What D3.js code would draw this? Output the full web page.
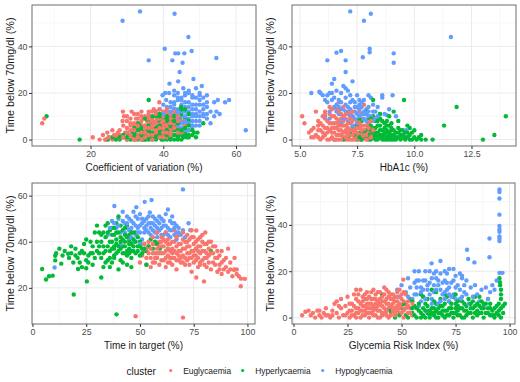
<!DOCTYPE html>
<html>
<head>
<meta charset="utf-8">
<script src="https://cdn.jsdelivr.net/npm/d3@7"></script>
<style>
  body { margin: 0; background: #fff; }
  svg text { font-family: "Liberation Sans", Arial, sans-serif; }
</style>
</head>
<body>
<div id="chart"></div>
<script>
// cluster names + colours (ggplot defaults)
const clusterNames = ["Euglycaemia", "Hyperlycaemia", "Hypoglycaemia"];
const clusterColors = ["#F8766D", "#00BA38", "#619CFF"];

// Panel 1: coefficient of variation vs time below 70
const cvEu = [[6.7,7],[7.3,9],[20.6,1],[22.5,0],[23.4,2],[24.6,3],[26,0],[27,1],[27.5,0.5],[28,2],[28.5,1],[29.2,10],[28.9,12],[31.3,12],[28.8,8],[29.5,3],[30,0],[30.5,2],[31,4],[31.5,1],[32,6],[32,3],[32.5,0],[33,5],[33,2],[33.5,7],[34,1],[34,4],[34.5,9],[34.5,3],[35,6],[35,0],[35.5,2],[35.5,8],[36,10],[36,4],[36.5,1],[36.5,6],[37,12],[37,3],[37.4,13],[37.5,7],[38,5],[38,1],[38.5,9],[38.9,16],[39,4],[39,11],[39.5,2],[39.5,7],[40,6],[40,12],[40.5,3],[40.5,9],[41,5],[41,1],[41.5,8],[42,11],[42,4],[42.5,6],[43,2],[43,9],[44,5],[44,7],[45,3],[46,6],[30,5],[31,7],[32.5,9],[33,11],[34,12],[35,10],[36,12],[37,9],[38,11],[39,13],[40,10],[41,11],[33.5,4],[34.5,6],[36,7],[37,5],[38,8],[39,6],[40,4],[41,7],[42,9],[43,12],[29,6],[30,8],[31,9],[32,11],[27.5,3],[26.5,2],[25,1],[24,0],[44,10],[45,8],
  [29,1],[30,3],[31,2],[31,6],[32,0],[32,4],[33,1],[33,6],[33,9],[34,0],[34,3],[34,8],[35,1],[35,3],[35,5],[36,2],[36,5],[36,9],[37,0],[37,2],[37,6],[37,8],[38,3],[38,7],[38,12],[39,1],[39,5],[39,9],[40,1],[40,3],[40,8],[41,3],[41,6],[41,13],[42,2],[42,7],[43,5],[43,7],[44,3],[44,8],[28,4],[27,2],[26,4],[30,10],[32,7],[34,10],[36,11],[38,4],[40,5],[42,3]];
const cvHyper = [[7.9,10],[17,0],[24.2,0],[24.8,0],[25,1],[28,0],[29,1],[30,0],[30.5,2],[31,0],[31.5,3],[32,1],[32.5,4],[33,0],[33,2],[33.5,5],[34,1],[34,3],[34.5,0],[35,2],[35,6],[35.5,4],[36,0],[36,17],[36.5,1],[36.5,3],[37,5],[37,7],[37.5,2],[38,0],[38,4],[38.5,1],[38.5,6],[39,3],[39,8],[39.5,0],[39.5,5],[40,2],[40,7],[40.5,4],[41,0],[41,6],[41.5,1],[41.5,3],[42,5],[42,8],[42.5,2],[43,0],[43,4],[43.5,6],[44,1],[44,3],[44.5,9],[44.9,14],[45,2],[45,5],[45.5,1],[45.5,7],[46,3],[46.5,1],[47,4],[47,2],[48,6],[48.5,3],[49.4,3],[51,7],[44,12],[43,10],[42,9],[40,9],[38,10],[36,8],[34,6],[32,5],[30,3],[29,2],[28,1],[27,0],[26,1],[33,7],[35,9],[37,10],[39,11],[41,10],[43,13],[45,11],[46,9],[47,8],[44,0],[42,1],[40,0],[38,2],[36,3],[34,4],[32,2],
  [30,1],[31,2],[32,0],[32,3],[33,1],[33,4],[34,0],[34,2],[34,5],[35,0],[35,1],[35,3],[36,1],[36,2],[36,4],[36,6],[37,0],[37,1],[37,3],[38,1],[38,3],[38,5],[38,7],[39,1],[39,2],[39,4],[39,6],[40,1],[40,3],[40,5],[41,2],[41,4],[41,8],[42,0],[42,3],[42,6],[43,2],[43,5],[44,2],[44,4],[44,7],[45,0],[45,4],[46,2],[46,5],[47,1],[47,6],[48,2],[48,4],[49,1],[46,13],[45,13],[47,11],[43,8],[41,9],[39,10]];
const cvHypo = [[28.8,51],[33.6,55],[43.1,54],[46.9,44],[40.4,39],[36,34],[42.5,34],[43.3,37],[44.1,37],[45.8,37],[47.8,38],[45.3,33],[44.5,29],[44.1,25],[41.7,24],[54.6,35],[48.3,26],[50.6,23],[45.5,22],[40.5,20],[41.6,20],[43,19],[44,20],[45,18],[46,19],[47,20],[48,19],[49,18],[50,19],[51,18],[52,19],[40.8,17],[42,16],[43,15],[39.8,19],[54,16],[57,16],[58.1,17],[54.6,12],[55.5,11],[53,7],[51,10],[52,9],[62.7,4],[39,13],[41,12],[42,14],[43,11],[44,13],[45,15],[46,12],[47,14],[48,11],[49,13],[50,15],[42,10],[43,8],[44,9],[45,10],[46,7],[47,9],[48,8],[49,10],[50,12],[44,6],[45,5],[46,4],[48,5],[49,6],[51,13],[52,11],[47,16],[48,15],[46,16],[45,17],[50,8],[41,8],[40,11],[46.8,4],[38,12],[44,17],[49,22],[47,21],[43,21],
  [43,13],[44,11],[45,12],[46,14],[47,12],[48,13],[49,11],[50,10],[51,11],[46,10],[47,11],[48,10],[49,15],[50,17],[51,15],[52,14],[45,7],[46,8],[47,7],[48,6],[49,8],[50,6],[44,12],[43,16],[44,18],[46,20],[48,18],[50,20],[52,16],[53,12],[54,10],[55,17],[42,12],[41,14],[40,15]];

// Panel 2: HbA1c vs time below 70
const hbEu = [[5.1,10],[5.2,7],[5.4,3],[5.5,1],[5.6,5],[5.7,2],[5.7,12],[5.8,8],[5.9,0],[5.9,4],[6,10],[6,6],[6.1,2],[6.1,12],[6.2,8],[6.2,0],[6.3,4],[6.3,11],[6.4,1],[6.4,7],[6.5,3],[6.5,10],[6.6,5],[6.6,0],[6.6,13],[6.7,16],[6.7,2],[6.7,8],[6.8,4],[6.8,11],[6.9,1],[6.9,6],[7,3],[7,9],[7,0],[7.1,12],[7.1,5],[7.2,2],[7.2,7],[7.3,0],[7.3,4],[7.3,10],[7.4,6],[7.4,1],[7.5,3],[7.5,8],[7.6,0],[7.6,5],[7.7,2],[7.7,9],[7.8,4],[7.8,1],[7.9,6],[8,3],[8,0],[8.1,5],[8.2,2],[8.3,9],[7.8,15],[6.3,14],[5.8,6],[6.1,9],[6.4,13],[6.9,14],[7.2,11],[7.6,12],[8,7],[6.2,5],[6.5,7],[6.8,2],[7.1,3],[7.4,4],[7.7,6],[6,3],[5.8,1],[6.6,9],[7,6],
  [5.8,4],[6,1],[6.1,5],[6.2,3],[6.3,0],[6.3,7],[6.4,3],[6.4,5],[6.5,0],[6.5,5],[6.6,2],[6.6,7],[6.7,0],[6.7,4],[6.7,6],[6.8,0],[6.8,6],[6.8,9],[6.9,3],[6.9,8],[7,1],[7,4],[7.1,0],[7.1,2],[7.1,7],[7.2,0],[7.2,4],[7.2,9],[7.3,2],[7.3,8],[7.4,0],[7.4,3],[7.5,1],[7.5,5],[7.6,2],[7.6,7],[7.7,0],[7.7,4],[7.8,2],[7.8,6],[7.9,0],[7.9,2],[8,5],[8.1,1],[8.1,8],[8.2,4],[5.5,4],[5.6,1],[5.9,7],[6.1,11],[6.4,10],[6.7,12],[7,11],[7.3,12],[6.9,10]];
const hbHyper = [[9.55,17],[11.85,14],[11.3,6],[14,10],[13,0],[13.5,2],[10.8,0],[10.5,0],[10.3,2],[6.5,0],[7.1,1],[7.3,5],[7.5,0],[7.6,3],[7.7,8],[7.8,1],[7.9,4],[8,0],[8,7],[8.1,2],[8.2,5],[8.2,10],[8.3,0],[8.3,3],[8.4,6],[8.4,1],[8.5,4],[8.5,9],[8.6,0],[8.6,2],[8.7,5],[8.7,7],[8.8,1],[8.8,3],[8.9,0],[8.9,6],[9,2],[9,4],[9.1,0],[9.1,12],[9.2,3],[9.2,1],[9.3,5],[9.4,0],[9.4,2],[9.5,4],[9.6,0],[9.7,6],[9.7,1],[9.8,5],[9.8,2],[9.9,0],[10,4],[10,1],[10.1,0],[10.3,0],[8.2,17],[8,9],[8.5,11],[8.9,10],[9.3,8],[7.9,12],[7.6,9],[8.3,8],[8.6,8],[7.5,6],[7.2,3],[6.9,0],[7.4,2],[8.1,6],[8.7,3],[9,7],[9.6,3],
  [7.8,3],[7.9,1],[8,2],[8,5],[8.1,0],[8.1,4],[8.2,1],[8.2,3],[8.3,2],[8.3,5],[8.4,0],[8.4,3],[8.5,1],[8.5,2],[8.5,6],[8.6,1],[8.6,4],[8.7,0],[8.7,2],[8.8,0],[8.8,4],[8.8,6],[8.9,2],[8.9,3],[9,0],[9,1],[9,5],[9.1,2],[9.1,4],[9.2,0],[9.3,1],[9.3,3],[9.4,4],[9.5,1],[9.5,2],[9.6,1],[9.7,3],[9.8,0],[9.9,3],[10.2,1],[7.7,0],[7.6,1],[8.4,8],[8.1,9],[8.8,8]];
const hbHypo = [[7.2,55],[8.1,54],[7.8,51],[11.6,44],[8.05,39],[8.05,37.5],[6.8,38],[6.6,37.3],[6.2,34],[7,34],[7.75,35.3],[9.1,37],[9.1,33],[7,29],[6.5,26],[7.3,25],[6.4,24],[5.5,20],[5.85,20.5],[5.9,20],[6,19],[6.1,17],[6.2,19],[6.3,20],[6.4,20],[6.5,18],[6.6,21],[6.7,17],[6.8,20],[6.9,23],[7,22],[7.1,21],[7.2,19],[7.3,17],[7.4,16],[7.5,19],[7.6,15],[7.7,14],[7.8,17],[7.9,13],[8,19],[8.1,18],[8.2,15],[8.3,12],[8.4,14],[8.5,11],[8.6,19],[8.6,18],[8.9,13],[8.8,10.5],[9.05,19],[9.65,4],[6.1,10],[6.3,12],[6.5,14],[6.7,11],[6.9,13],[7,15],[7.1,11],[7.2,13],[7.3,10],[7.4,12],[7.5,14],[7.6,10],[7.7,11],[7.8,9],[7.9,11],[8,12],[8.1,10],[8.2,8],[7.1,8],[6.8,7],[6.2,16],[6.3,9],[7.3,6],[7.5,7],[8.4,10],[8.7,11],[9.2,10],
  [6.4,17],[6.6,15],[6.8,16],[7,18],[7.2,16],[7.4,14],[7.6,17],[7.8,12],[8,14],[8.2,12],[6.6,12],[6.8,13],[7,12],[7.2,10],[7.4,9],[7.6,13],[7.8,11],[8,10],[8.3,9],[7.9,8],[6.9,9],[7.5,11],[7.7,16],[7.1,14],[6.7,14]];

// Panel 3: time in target
const titEu = [[48,7.7],[70,7.1],[96.9,20.7],[98.8,23.9],[96,25],[93.7,27.8],[79.8,22.8],[76.2,24.5],[76.2,44.9],[80.4,44],[50,31],[51,34],[52,36],[53,30],[54,38],[55,33],[55,29],[56,35],[57,39],[57,31],[58,37],[58,33],[59,40],[59,30],[60,35],[60,38],[61,32],[61,41],[62,36],[62,29],[63,39],[63,34],[64,42],[64,31],[65,37],[65,35],[66,40],[66,33],[67,28],[67,38],[68,36],[68,43],[69,31],[69,39],[70,34],[70,41],[71,37],[71,30],[72,35],[72,40],[73,33],[73,38],[74,36],[74,42],[75,31],[75,39],[76,34],[76,37],[77,41],[77,29],[78,35],[78,38],[79,32],[79,43],[80,36],[80,30],[81,39],[81,33],[82,37],[83,28],[84,35],[84,31],[85,38],[86,27],[86,33],[87,30],[88,36],[88,26],[89,32],[90,29],[91,37],[91,27],[92,31],[93,25],[94,33],[95,28],[97,24],[54,40],[56,42],[58,44],[60,42],[62,44],[66,45],[70,44],[72,43],[74,45],[78,42],[53,33],[57,35],[61,38],[65,33],[69,36],[73,35],[77,36],[82,34],[85,30],[89,28],[52,39],[55,37],[63,37],[67,35],[71,33],[75,36],[83,40],[87,34],[64,33],[68,32],[78,31],[81,29],[74,27],[62,40],[59,35],
  [53,37],[54,35],[56,31],[56,39],[57,33],[58,35],[59,38],[60,32],[60,40],[61,35],[62,33],[63,31],[63,41],[64,36],[64,39],[65,30],[65,40],[66,36],[67,32],[67,42],[68,34],[68,39],[69,33],[70,37],[70,31],[71,40],[72,32],[72,38],[73,30],[73,41],[74,33],[75,34],[75,42],[76,32],[76,40],[77,33],[77,38],[78,30],[79,36],[79,40],[80,33],[80,39],[81,35],[82,31],[82,40],[83,35],[84,38],[85,33],[86,36],[87,28],[88,31],[90,33],[92,28],[94,28],[95,26]];
const titHyper = [[4.5,28.2],[6.3,23.6],[7.7,25],[9.4,25.3],[10.6,31.9],[10.6,33.9],[12.5,37],[13.4,30.5],[16.6,34.8],[19.2,17.1],[21.2,28.2],[25.3,22.8],[25,28.5],[39.1,8.5],[82.9,36.1],[59.3,37],[53,30],[15,36],[17,33],[18,38],[20,37],[21,33],[22,35],[23,29],[24,39],[25,32],[25,41],[27,35],[28,30],[28,38],[29,33],[30,36],[30,47],[31,44],[32,24.5],[32,40],[33,35],[33,29],[34,42],[34,47],[35,38],[35,32],[36,45],[36,36],[37,40],[37,31],[38,43],[38,34],[39,39],[39,48],[40,36],[40,51],[41,42],[41,32],[42,38],[42,45],[43,40],[43,35],[44,47],[44,30],[45,37],[45,43],[46,33],[46,39],[47,41],[47,36],[48,35],[48,44],[49,38],[50,40],[50,34],[51,37],[52,39],[53,36],[54,38],[55,41],[56,37],[57,40],[58,39],[63,37],[40,28],[42,31],[44,34],[46,29],[26,34],[27,40],[29,44],[31,38],[33,44],[35,48],[37,46],[39,44],[41,47],[43,43],[45,40],[47,44],[49,42],[11,35],[14,34],[19,31],[23,36],[36,29],[38,33],
  [30,40],[31,35],[32,43],[33,38],[34,36],[35,44],[36,40],[37,37],[37,43],[38,38],[38,46],[39,35],[39,41],[40,38],[40,44],[41,37],[41,40],[42,35],[42,41],[43,38],[43,46],[44,36],[44,42],[45,35],[45,39],[46,36],[46,44],[47,38],[48,40],[49,36],[50,38],[51,35],[52,37],[28,35],[26,31],[24,35],[22,31],[20,34],[18,35],[32,33],[34,31],[36,33],[38,37]];
const titHypo = [[70,62.7],[38.1,55.5],[55.4,58.1],[52.2,57.3],[48.3,55],[54.6,52.7],[72.6,48],[73.4,45],[10.3,28.8],[35,43],[37,49],[39,46],[40,50],[41,44],[42,53],[43,48],[44,51],[45,45],[46,49],[47,53],[48,47],[49,50],[50,44],[50,52],[51,48],[52,46],[53,50],[54,44],[55,48],[56,51],[56,45],[57,47],[58,42],[58,49],[59,45],[60,50],[60,43],[61,47],[62,52],[62,44],[63,46],[64,49],[64,42],[65,45],[66,48],[67,44],[67,41],[68,46],[69,43],[70,45],[71,42],[63,54],[65,51],[45,41],[48,43],[51,41],[53,47],[55,43],[57,44],[59,48],[61,43],[47,40],[43,44],[46,42],[44,48],[49,46],[52,49],[66,43],[58,46],[41,39],[50,39],
  [44,46],[45,50],[46,46],[47,48],[48,51],[49,44],[50,47],[51,50],[52,44],[53,45],[54,48],[54,51],[55,46],[56,48],[57,50],[58,44],[59,51],[60,46],[61,49],[62,47],[63,43],[64,45],[65,48],[66,46],[67,47],[68,44],[42,49],[40,47],[38,48],[36,46]];

// Panel 4: glycemia risk index
const griEu = [[4,1],[5.5,2.5],[50.8,16.4],[7,3],[8,1],[9,2],[10,0],[11,3],[12,1],[13,0],[14,2],[15,4],[16,1],[17,0],[18,3],[19,6],[20,2],[20,7],[21,0],[22,4],[22,8],[23,1],[24,5],[25,2],[25,9],[26,0],[27,6],[27,3],[28,1],[28,10],[29,4],[29,12],[30,7],[30,2],[31,0],[31,12],[32,5],[32,9],[33,1],[33,3],[34,11],[34,6],[35,0],[35,4],[36,8],[36,2],[37,12],[37,5],[38,1],[38,10],[39,3],[39,7],[40,0],[40,11],[41,5],[41,9],[42,2],[42,13],[43,6],[43,12],[44,0],[44,4],[45,8],[45,2],[46,10],[46,6],[47,1],[47,4],[48,9],[48,7],[49,2],[49,12],[50,5],[50,8],[51,0],[51,3],[52,6],[52,10],[53,2],[53,7],[54,4],[55,1],[29,0],[31,3],[33,8],[35,6],[37,3],[39,0],[41,2],[43,1],[45,5],[47,9],[49,6],[51,11],[36,4],[38,6],[40,8],[42,7],[44,9],[46,3],[24,1],[26,3],[32,1],[34,2],[18,1],[12,3],[15,1],[21,5],[48,3],
  [26,6],[27,1],[28,5],[29,2],[29,8],[30,4],[30,10],[31,6],[32,3],[32,7],[33,5],[33,10],[34,4],[34,8],[35,2],[35,9],[36,6],[36,11],[37,1],[37,8],[38,4],[38,8],[39,5],[39,11],[40,3],[40,6],[41,1],[41,7],[42,4],[42,10],[43,3],[43,8],[44,6],[44,11],[45,1],[45,10],[46,4],[46,8],[47,2],[47,7],[48,5],[48,11],[49,4],[50,2],[50,10],[51,7],[52,4],[53,5],[54,2],[55,6]];
const griHyper = [[95.3,17],[95.6,14],[95.5,15.3],[97.8,6],[41,10],[43,3],[47,0],[50,4],[52,1],[54,8],[55,2],[56,5],[57,0],[58,3],[59,10],[60,1],[61,6],[62,2],[62,8],[63,0],[64,4],[64,12],[65,1],[66,6],[66,3],[67,0],[68,8],[68,2],[69,5],[70,0],[70,10],[71,3],[72,1],[72,7],[73,4],[74,0],[74,9],[75,2],[75,6],[76,1],[77,4],[78,0],[78,7],[79,3],[80,1],[80,5],[81,8],[82,2],[83,0],[83,4],[84,9],[85,1],[86,5],[86,9],[87,2],[88,0],[89,6],[90,2],[90,8],[91,1],[92,3],[93,0],[94,5],[95,1],[95,6],[96,0],[96,4],[97,2],[96,10],[93,1],[91,4],[88,4],[85,3],[82,6],[79,0],[76,5],[73,2],[71,9],[69,1],[67,4],[65,7],[63,3],[61,0],[59,2],[57,4],[55,7],[53,0],[51,6],[49,1],[45,3],[60,9],[66,11],[75,10],[84,2],[87,7],
  [55,4],[56,1],[58,6],[59,0],[60,4],[61,3],[62,5],[63,1],[64,2],[65,4],[66,0],[67,2],[68,5],[69,3],[70,6],[71,1],[72,4],[73,6],[74,2],[75,4],[76,3],[77,1],[78,4],[79,6],[80,3],[81,2],[82,4],[83,7],[84,5],[85,6],[86,2],[87,4],[88,6],[89,2],[90,4],[91,6],[92,1],[93,4],[94,2],[95,3],[96,8],[97,5],[96,12],[65,2],[70,3],[76,7]];
const griHypo = [[95.3,55.3],[95.3,54.2],[95.3,51.4],[95.3,44.4],[95.3,39.5],[95.3,38],[95.3,37],[95.3,35],[95.3,34],[95.3,33],[90.7,34.1],[80.3,29.3],[80.8,25.3],[90.7,26],[83.7,23.8],[95.3,19.3],[96.7,19.3],[63.9,23.4],[68,24.4],[48,12],[49,9],[50,14],[51,6],[52,11],[53,17],[54,13],[55,8],[56,20],[56,15],[57,10],[58,20],[58,5],[59,13],[60,16],[60,9],[61,20],[62,12],[62,3],[63,15],[64,8],[65,19],[65,11],[66,20],[67,14],[67,6],[68,19],[69,10],[70,20],[70,16],[71,12],[72,21],[72,7],[73,15],[74,21],[74,10],[75,13],[76,5],[77,19],[77,8],[78,17],[78,18],[79,11],[80,16],[81,6],[82,13],[83,9],[84,14],[85,10],[86,7],[87,12],[88,5],[89,13],[90,8],[91,11],[92,14],[93,12],[94,16],[63,20],[61,16],[75,8],[71,19],[66,17],[57,16],[53,9],[59,7],[64,6],
  [56,10],[57,13],[58,16],[59,11],[60,12],[61,8],[62,14],[63,10],[64,17],[65,14],[66,12],[67,16],[68,12],[69,15],[70,11],[71,15],[72,13],[73,9],[74,16],[75,18],[76,14],[77,12],[78,9],[79,14],[80,10],[68,7],[70,8],[72,10]];

// ticks
const ticksCV = [20, 40, 60];
const ticksHb = [5, 7.5, 10, 12.5];
const ticksPct = [0, 25, 50, 75, 100];
const ticksTb = [0, 20, 40];
const ticksTit = [20, 40, 60];

const yTitle = "Time below 70mg/dl (%)";

const W = 520, H = 382;
const svg = d3.select("#chart").append("svg")
    .attr("width", W)
    .attr("height", H);

const panels = [
  { x: 32, y: 5, w: 224, h: 141, sets: [cvEu, cvHyper, cvHypo], xt: ticksCV, yt: ticksTb, fmt: d3.format("d"), xlab: "Coefficient of variation (%)" },
  { x: 292, y: 5, w: 224, h: 141, sets: [hbEu, hbHyper, hbHypo], xt: ticksHb, yt: ticksTb, fmt: d3.format(".1f"), xlab: "HbA1c (%)" },
  { x: 32, y: 183, w: 223, h: 141, sets: [titEu, titHyper, titHypo], xt: ticksPct, yt: ticksTit, fmt: d3.format("d"), xlab: "Time in target (%)" },
  { x: 292, y: 183, w: 223, h: 141, sets: [griEu, griHyper, griHypo], xt: ticksPct, yt: ticksTb, fmt: d3.format("d"), xlab: "Glycemia Risk Index (%)" }
];

// ggplot style 5% expansion
function expand(ext) {
  const pad = (ext[1] - ext[0]) * 0.05;
  return [ext[0] - pad, ext[1] + pad];
}

// minor breaks sit half-way between majors
function minors(ticks, dom) {
  const step = ticks[1] - ticks[0];
  const out = [];
  for (let v = ticks[0] - step / 2; v <= dom[1]; v += step) {
    if (v >= dom[0]) out.push(v);
  }
  return out;
}

panels.forEach(function(p) {
  const all = [].concat(...p.sets);
  const x = d3.scaleLinear().domain(expand(d3.extent(all, d => d[0]))).range([0, p.w]);
  const y = d3.scaleLinear().domain(expand(d3.extent(all, d => d[1]))).range([p.h, 0]);

  const g = svg.append("g").attr("transform", "translate(" + p.x + "," + p.y + ")");

  // grid, minor first
  g.selectAll(".mx").data(minors(p.xt, x.domain())).enter().append("line")
      .attr("x1", d => x(d)).attr("x2", d => x(d)).attr("y1", 0).attr("y2", p.h)
      .attr("stroke", "#f3f3f3").attr("stroke-width", 0.6);
  g.selectAll(".my").data(minors(p.yt, y.domain())).enter().append("line")
      .attr("y1", d => y(d)).attr("y2", d => y(d)).attr("x1", 0).attr("x2", p.w)
      .attr("stroke", "#f3f3f3").attr("stroke-width", 0.6);
  g.selectAll(".gx").data(p.xt).enter().append("line")
      .attr("x1", d => x(d)).attr("x2", d => x(d)).attr("y1", 0).attr("y2", p.h)
      .attr("stroke", "#ebebeb").attr("stroke-width", 1);
  g.selectAll(".gy").data(p.yt).enter().append("line")
      .attr("y1", d => y(d)).attr("y2", d => y(d)).attr("x1", 0).attr("x2", p.w)
      .attr("stroke", "#ebebeb").attr("stroke-width", 1);

  // interleave clusters so overlaps look mixed
  const pts = [];
  const n = d3.max(p.sets, s => s.length);
  for (let i = 0; i < n; i++) {
    p.sets.forEach(function(s, k) { if (s[i]) pts.push({ v: s[i], c: k }); });
  }
  g.selectAll("circle").data(pts).enter().append("circle")
      .attr("cx", d => x(d.v[0]))
      .attr("cy", d => y(d.v[1]))
      .attr("r", 2.2)
      .attr("fill", d => clusterColors[d.c]);

  // border
  g.append("rect")
      .attr("width", p.w).attr("height", p.h)
      .attr("fill", "none").attr("stroke", "#6e6e6e").attr("stroke-width", 1);

  // axes
  const xa = g.append("g").attr("transform", "translate(0," + p.h + ")")
      .call(d3.axisBottom(x).tickValues(p.xt).tickFormat(p.fmt).tickSize(3).tickPadding(1.5));
  const ya = g.append("g")
      .call(d3.axisLeft(y).tickValues(p.yt).tickFormat(d3.format("d")).tickSize(3).tickPadding(1.5));
  [xa, ya].forEach(function(a) {
    a.select(".domain").remove();
    a.selectAll("line").attr("stroke", "#333");
    a.selectAll("text").attr("fill", "#4d4d4d").style("font-size", "8.8px");
  });

  // axis titles
  g.append("text")
      .attr("x", p.w / 2).attr("y", p.h + 24.5)
      .attr("text-anchor", "middle")
      .style("font-size", "10px").attr("fill", "#1a1a1a")
      .text(p.xlab);
  g.append("text")
      .attr("transform", "translate(" + (-18) + "," + (p.h / 2) + ") rotate(-90)")
      .attr("text-anchor", "middle")
      .style("font-size", "10.8px").attr("fill", "#1a1a1a")
      .text(yTitle);
});

// legend
const legend = svg.append("g");
legend.append("text").attr("x", 126.5).attr("y", 374.5)
    .style("font-size", "10px").attr("fill", "#1a1a1a").text("cluster");
const legX = [170.7, 242.7, 322.7];
legend.selectAll("circle").data(clusterNames).enter().append("circle")
    .attr("cx", (d, i) => legX[i]).attr("cy", 370.5).attr("r", 1.6)
    .attr("fill", (d, i) => clusterColors[i]);
legend.selectAll(".lab").data(clusterNames).enter().append("text")
    .attr("x", (d, i) => legX[i] + 12.5).attr("y", 373.5)
    .style("font-size", "8.4px").attr("fill", "#1a1a1a")
    .text(d => d);
</script>
</body>
</html>
